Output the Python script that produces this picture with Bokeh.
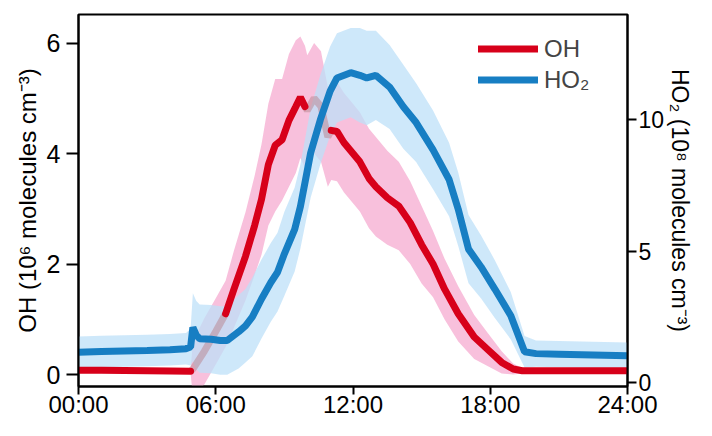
import math
from bokeh.plotting import figure
from bokeh.models import Range1d, LinearAxis, FixedTicker, Legend, LegendItem
from bokeh.embed import file_html
from bokeh.resources import INLINE

# ---- data ----
oh_hours = [0.0, 1.0, 2.0, 3.0, 4.0, 4.9, 5.0, 5.5, 6.0, 6.43, 6.8, 7.3, 7.7, 8.0, 8.3,
            8.6, 8.9, 9.2, 9.5, 9.7, 9.9, 10.0, 10.3, 10.6, 10.9, 11.05, 11.3, 11.6,
            11.9, 12.3, 12.7, 13.0, 13.5, 14.0, 14.5, 15.0, 15.5, 16.0, 16.6, 17.3,
            17.9, 18.5, 19.0, 19.4, 20.0, 21.0, 22.0, 23.0, 24.0]
oh_values = [0.08, 0.08, 0.075, 0.07, 0.065, 0.06, 0.1, 0.42, 0.78, 1.1, 1.55, 2.14, 2.7,
             3.17, 3.8, 4.15, 4.25, 4.6, 4.85, 5.02, 4.85, 4.78, 5.0, 4.85, 4.3, 4.42,
             4.4, 4.2, 4.05, 3.85, 3.55, 3.4, 3.2, 3.05, 2.75, 2.35, 2.0, 1.55, 1.1,
             0.68, 0.45, 0.22, 0.1, 0.07, 0.07, 0.07, 0.07, 0.07, 0.07]
oh_err = [0.03, 0.03, 0.03, 0.03, 0.03, 0.03, 0.5, 0.6, 0.6, 0.6, 0.7, 0.8, 0.9,
          1.0, 1.1, 1.2, 1.1, 1.2, 1.2, 1.1, 1.1, 1.0, 1.0, 1.0, 0.9, 0.9,
          0.9, 0.9, 0.9, 0.9, 0.9, 0.9, 0.85, 0.8, 0.75, 0.7, 0.6, 0.55, 0.5,
          0.4, 0.3, 0.2, 0.1, 0.05, 0.03, 0.03, 0.03, 0.03, 0.03]
oh_gaps = [(4.9, 6.43), (9.9, 11.05)]

ho2_hours = [0.0, 1.0, 2.0, 3.0, 4.0, 4.7, 4.9, 5.0, 5.15, 5.3, 5.8, 6.2, 6.5, 7.0, 7.3,
             7.6, 8.0, 8.4, 8.7, 9.0, 9.45, 9.7, 10.15, 10.57, 11.0, 11.3, 11.9, 12.3,
             12.6, 13.0, 13.6, 14.2, 14.76, 15.5, 16.2, 16.6, 17.05, 17.6, 18.2, 18.9,
             19.5, 20.0, 21.0, 22.0, 23.0, 24.0]
ho2_values = [1.15, 1.18, 1.2, 1.22, 1.25, 1.29, 1.35, 2.1, 1.8, 1.67, 1.65, 1.6, 1.6,
              1.93, 2.16, 2.5, 3.18, 3.8, 4.2, 4.9, 5.83, 6.7, 8.75, 10.0, 11.1, 11.6,
              11.8, 11.7, 11.6, 11.7, 11.25, 10.5, 9.9, 8.86, 7.73, 6.6, 5.08, 4.4,
              3.56, 2.54, 1.17, 1.1, 1.08, 1.06, 1.04, 1.02]
ho2_err = [0.6, 0.6, 0.6, 0.6, 0.6, 0.6, 0.7, 1.3, 1.3, 1.3, 1.3, 1.3, 1.3,
           1.4, 1.4, 1.5, 1.5, 1.5, 1.5, 1.6, 1.6, 1.6, 1.7, 1.7, 1.7, 1.7,
           1.7, 1.8, 1.8, 1.7, 1.6, 1.6, 1.5, 1.5, 1.4, 1.4, 1.3, 1.2,
           1.1, 0.9, 0.6, 0.5, 0.5, 0.5, 0.5, 0.5]

x_ticks = [0, 6, 12, 18, 24]
x_tick_labels = ["00:00", "06:00", "12:00", "18:00", "24:00"]
oh_ticks = [0, 2, 4, 6]
ho2_ticks = [0, 5, 10]

FONT = "Liberation Sans"
RED = "#d7001a"
BLUE = "#177ec3"
PINK = "#f7b9d8"
LBLUE = "#bde0f8"

p = figure(width=696, height=420, output_backend="svg", toolbar_location=None,
           x_range=Range1d(0, 24), y_range=Range1d(-0.216, 6.517),
           min_border_left=78, min_border_right=64, min_border_top=14, min_border_bottom=32)
p.extra_y_ranges = {"ho2": Range1d(-0.152, 14.015)}
p.grid.visible = False
p.outline_line_color = "black"
p.outline_line_width = 2
p.background_fill_color = "white"
p.border_fill_color = "white"

# bands
oh_lo = [v - e for v, e in zip(oh_values, oh_err)]
oh_hi = [v + e for v, e in zip(oh_values, oh_err)]
p.varea(x=oh_hours, y1=oh_lo, y2=oh_hi, fill_color=PINK, fill_alpha=0.9)
ho2_lo = [v - e for v, e in zip(ho2_values, ho2_err)]
ho2_hi = [v + e for v, e in zip(ho2_values, ho2_err)]
p.varea(x=ho2_hours, y1=ho2_lo, y2=ho2_hi, fill_color=LBLUE, fill_alpha=0.75,
        y_range_name="ho2")

def in_gap(h, strict):
    for a, b in oh_gaps:
        if strict and a < h < b:
            return True
        if not strict and a <= h <= b:
            return True
    return False

oh_main = [v if not in_gap(h, True) else math.nan for h, v in zip(oh_hours, oh_values)]
oh_faded = [v if in_gap(h, False) else math.nan for h, v in zip(oh_hours, oh_values)]

p.line(oh_hours, oh_faded, line_color="#b98a96", line_alpha=0.55, line_width=7)
r_ho2 = p.line(ho2_hours, ho2_values, line_color=BLUE, line_width=7, line_cap="round",
               y_range_name="ho2")
r_oh = p.line(oh_hours, oh_main, line_color=RED, line_width=7, line_cap="round")

# axes
for ax in [p.xaxis[0], p.yaxis[0]]:
    ax.axis_line_width = 2
    ax.major_tick_line_width = 2
    ax.major_tick_in = 0
    ax.minor_tick_line_color = None
    ax.major_label_text_font = FONT
    ax.major_label_text_font_size = "25px"
    ax.major_label_text_color = "black"
    ax.axis_label_text_font = FONT
    ax.axis_label_text_font_size = "24px"
    ax.axis_label_text_font_style = "normal"
    ax.axis_label_text_color = "black"

p.xaxis.ticker = FixedTicker(ticks=x_ticks)
p.xaxis.major_label_overrides = {t: l for t, l in zip(x_ticks, x_tick_labels)}
p.xaxis.major_label_text_font_size = "24px"
p.xaxis.major_tick_out = 8
p.xaxis.major_label_standoff = -4

p.yaxis.ticker = FixedTicker(ticks=oh_ticks)
p.yaxis.major_tick_out = 12
p.yaxis.major_label_standoff = 6
p.yaxis.axis_label = "OH (10\u2076 molecules cm\u207b\u00b3)"
p.yaxis.axis_label_standoff = 3

rax = LinearAxis(y_range_name="ho2", ticker=FixedTicker(ticks=ho2_ticks),
                 axis_label="HO\u2082 (10\u2078 molecules cm\u207b\u00b3)")
rax.axis_line_width = 2
rax.major_tick_line_width = 2
rax.major_tick_in = 0
rax.major_tick_out = 9
rax.minor_tick_line_color = None
rax.major_label_standoff = 2
rax.major_label_text_font = FONT
rax.major_label_text_font_size = "23px"
rax.major_label_text_color = "black"
rax.axis_label_text_font = FONT
rax.axis_label_text_font_size = "23px"
rax.axis_label_text_font_style = "normal"
rax.axis_label_text_color = "black"
rax.axis_label_standoff = 0
p.add_layout(rax, "right")

legend = Legend(items=[LegendItem(label="OH", renderers=[r_oh]),
                       LegendItem(label="HO\u2082", renderers=[r_ho2])],
                location=(400, 291))
legend.glyph_width = 60
legend.glyph_height = 31
legend.label_height = 31
legend.spacing = 0
legend.padding = 0
legend.margin = 0
legend.label_standoff = 6
legend.label_text_font = FONT
legend.label_text_font_size = "24px"
legend.background_fill_alpha = 0
legend.border_line_alpha = 0
p.add_layout(legend)

open("out.html", "w").write(file_html(p, INLINE))
